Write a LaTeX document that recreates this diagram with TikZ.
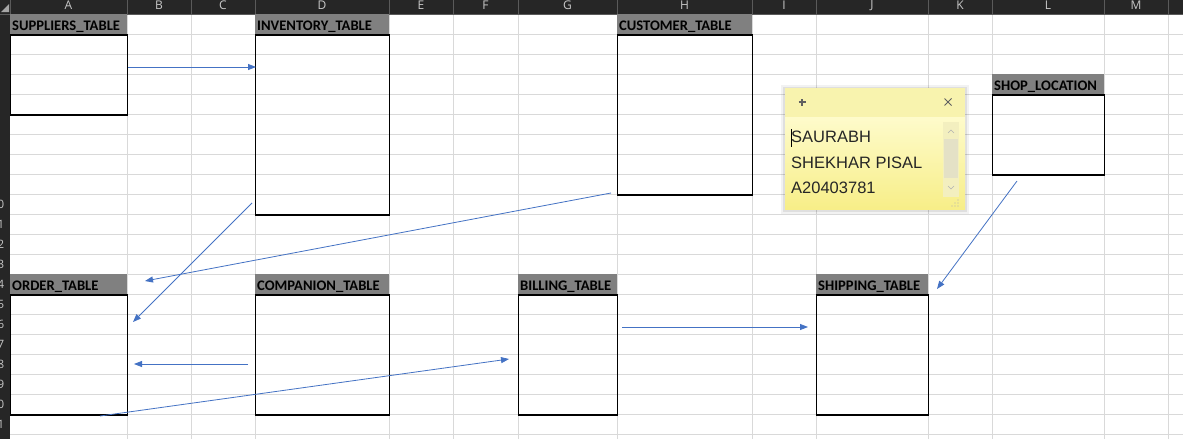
\documentclass[tikz,border=0pt]{standalone}
\usepackage{fontspec}
\setmainfont{Carlito}
\newfontfamily\uifont{Open Sans}
\newfontfamily\notefont{Liberation Sans}
\usetikzlibrary{arrows.meta}
\definecolor{xlblue}{HTML}{4472C4}
\definecolor{gridc}{HTML}{D9D9D9}
\definecolor{hdrdark}{HTML}{262626}
\definecolor{hdrsep}{HTML}{5A5A5A}
\definecolor{hdrtxt}{HTML}{C8C8C8}
\definecolor{tabgray}{HTML}{808080}
\definecolor{notetitle}{HTML}{F8F3AE}
\definecolor{notetop}{HTML}{FEFBCB}
\definecolor{notebot}{HTML}{F7EE88}
\definecolor{scrollc}{HTML}{F3EFBF}
\definecolor{thumbc}{HTML}{E4E1C6}
\tikzset{
  tabhead/.style={fill=tabgray, draw=none, inner sep=0pt, minimum height=20pt, anchor=north west},
  tabtext/.style={inner sep=0pt, anchor=base west, font=\fontsize{14.6}{16}\selectfont\bfseries, text=black},
  tabbody/.style={draw=black, line width=1.2pt, inner sep=0pt, anchor=north west},
  rel/.style={draw=xlblue, line width=0.8pt, -{Triangle[length=8pt,width=6pt]}},
  collbl/.style={font=\uifont\fontsize{12}{12}\selectfont, text=hdrtxt, inner sep=0pt},
  rowlbl/.style={font=\uifont\fontsize{11.5}{12}\selectfont, text=hdrtxt, inner sep=0pt, anchor=east},
  notetxt/.style={font=\notefont\fontsize{16.5}{18}\selectfont, inner sep=0pt, anchor=base west, text=black!85},
  noteicon/.style={draw=gray!75!black, line width=1.1pt}
}
\newcommand\dbtab[6]{%
  \node[tabhead, minimum width=#4pt] (#1-h) at (#2,#3) {};
  \node[tabtext] (#1-t) at ([xshift=2pt,yshift=-6pt]#1-h.west) {#6};
  \node[tabbody, minimum width=#4pt, minimum height=#5pt] (#1) at (#1-h.south west) {};
}
\begin{document}
\begin{tikzpicture}[x=1pt,y=-1pt]
\useasboundingbox (0,0) rectangle (1183,439);
\fill[white] (0,0) rectangle (1183,439);
% grid
\foreach \r in {1,...,21} \draw[gridc, line width=0.8pt] (10,{14+20*\r}) -- (1183,{14+20*\r});
\foreach \c in {127,191,255,389,453,518,617,752,816,928,992,1104,1168}
  \draw[gridc, line width=0.8pt] (\c,14) -- (\c,439);
% header bar and row header column
\fill[hdrdark] (0,0) rectangle (1183,14);
\fill[hdrdark] (0,0) rectangle (10,439);
\foreach \c in {10,127,191,255,389,453,518,617,752,816,928,992,1104,1168}
  \draw[hdrsep, line width=0.8pt] (\c,0) -- (\c,14);
\draw[hdrsep, line width=0.8pt] (0,14) -- (1183,14);
\fill[gray!70] (9,4) -- (9,12) -- (1,12) -- cycle;
\begin{scope}
\clip (10,0) rectangle (1183,14);
\foreach \x/\l in {68.5/A,159/B,223/C,322/D,421/E,485.5/F,567.5/G,684.5/H,784/I,872/J,960/K,1048/L,1136/M}
  \node[collbl] (col\l) at (\x,5) {\l};
\end{scope}
\begin{scope}
\clip (0,14) rectangle (10,439);
\foreach \r in {10,...,21}
  \node[rowlbl] (row\r) at (4.5,{24+20*(\r-1)}) {\r};
\end{scope}
% tables
\dbtab{sup}{10}{14}{117}{80}{SUPPLIERS\_TABLE}
\dbtab{inv}{255}{14}{134}{180}{INVENTORY\_TABLE}
\dbtab{cus}{617}{14}{135}{160}{CUSTOMER\_TABLE}
\dbtab{shop}{992}{74}{112}{80}{SHOP\_LOCATION}
\dbtab{ord}{10}{274}{117}{120}{ORDER\_TABLE}
\dbtab{com}{255}{274}{134}{120}{COMPANION\_TABLE}
\dbtab{bil}{518}{274}{99}{120}{BILLING\_TABLE}
\dbtab{shp}{816}{274}{112}{120}{SHIPPING\_TABLE}
% connector end points
\coordinate (a1s) at (128,67);  \coordinate (a1e) at (256,67);
\coordinate (a2s) at (252,203); \coordinate (a2e) at (133,322);
\coordinate (a3s) at (611,193); \coordinate (a3e) at (145,281);
\coordinate (a4s) at (248,364); \coordinate (a4e) at (134,364);
\coordinate (a5s) at (100,416); \coordinate (a5e) at (509,359);
\coordinate (a6s) at (622,327); \coordinate (a6e) at (808,327);
\coordinate (a7s) at (1017,181);\coordinate (a7e) at (937,289);
\foreach \i in {1,...,7} \draw[rel] (a\i s) -- (a\i e);
% sticky note
\fill[black, opacity=0.05] (781,85) rectangle (969,214);
\fill[black, opacity=0.08] (783,87) rectangle (967,212);
\node[draw=none, fill=notetitle, inner sep=0pt, minimum width=180pt, minimum height=29pt, anchor=north west] (notebar) at (785,88) {};
\shade[top color=notetop, bottom color=notebot] (785,117) rectangle (965,209);
\coordinate (plusc) at (802,102);
\coordinate (xc) at (948,102);
\draw[noteicon] ([xshift=-3.5pt]plusc) -- ([xshift=3.5pt]plusc) ([yshift=-3.5pt]plusc) -- ([yshift=3.5pt]plusc);
\draw[noteicon, line width=0.9pt] ([shift={(-3.5,-3.5)}]xc) -- ([shift={(3.5,3.5)}]xc) ([shift={(-3.5,3.5)}]xc) -- ([shift={(3.5,-3.5)}]xc);
\fill[scrollc] (943,122) rectangle (959,197);
\fill[thumbc] (944,139) rectangle (958,178);
\draw[gray!60, line width=0.6pt] (948,133) -- (951,130) -- (954,133);
\draw[gray!60, line width=0.6pt] (948,186) -- (951,189) -- (954,186);
\foreach \p in {(958,206),(955,206),(958,203),(952,206),(955,203),(958,200)} \fill[gray!60] \p circle (0.6pt);
\node[notetxt] (n1) at (791,142) {SAURABH};
\node[notetxt] (n2) at (791,168) {SHEKHAR PISAL};
\node[notetxt] (n3) at (791,193) {A20403781};
\draw[black, line width=0.8pt] (791,129) -- (791,147);
\end{tikzpicture}
\end{document}
